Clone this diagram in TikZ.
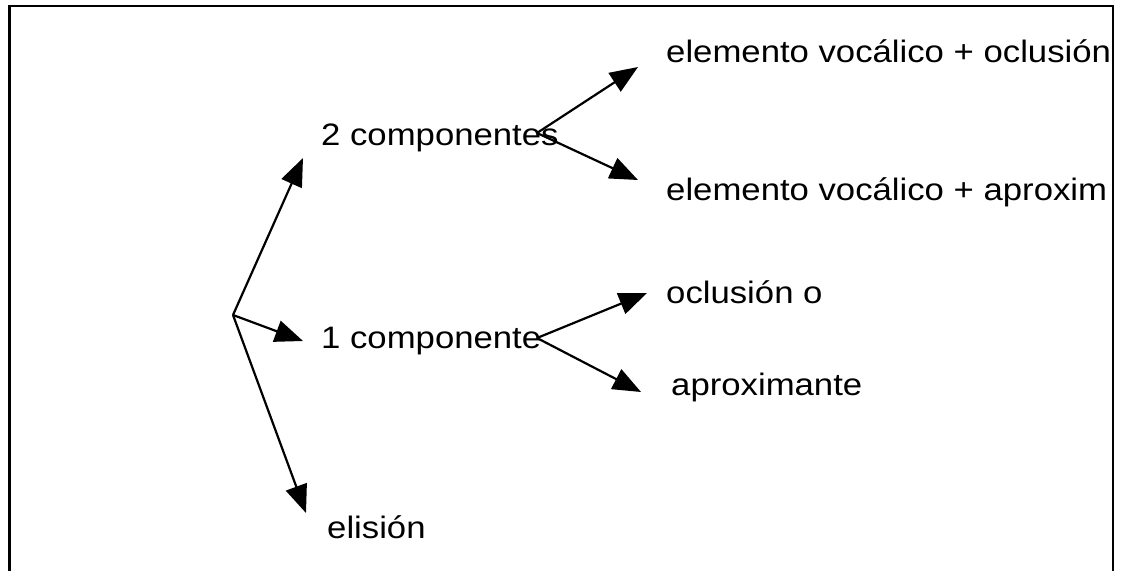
\documentclass[tikz,border=0pt]{standalone}
\usepackage{fontspec}
\setmainfont{Liberation Sans}[FakeStretch=1.12]
\usetikzlibrary{arrows.meta}
\begin{document}
\begin{tikzpicture}[x=1pt,y=-1pt,
  lbl/.style={anchor=base west, inner sep=0pt, font=\fontsize{31}{36}\selectfont},
  arr/.style={line width=2.2pt, -{Triangle[length=28pt,width=22pt]}},
  frame/.style={line width=2.4pt}]
\useasboundingbox (0,0) rectangle (1124,571);
% open-bottomed frame
\draw[frame] (9.5,571) -- (9.5,6) -- (1113,6) -- (1113,571);
\begin{scope}
\clip (10.7,7.2) rectangle (1111.8,571);
% labels
\node[lbl] (two)  at (321,145) {2 componentes};
\node[lbl] (one)  at (321,348) {1 componente};
\node[lbl] (eli)  at (327,538) {elisión};
\node[lbl] (voc1) at (666,62)  {elemento vocálico + oclusión};
\node[lbl] (voc2) at (666,200) {elemento vocálico + aproxim};
\node[lbl] (ocl)  at (666,303) {oclusión o};
\node[lbl] (apr)  at (671,395) {aproximante};
% branch points and arrow tips
\coordinate (hub)   at (233,315);
\coordinate (tTwo)  at (303,158);
\coordinate (tOne)  at (303,341);
\coordinate (tEli)  at (306,513);
\coordinate (fTwo)  at (537,133);
\coordinate (tVoc1) at (638,67);
\coordinate (tVoc2) at (638,180);
\coordinate (fOne)  at (537,338);
\coordinate (tOcl)  at (647,293);
\coordinate (tApr)  at (641,392);
% arrows
\draw[arr] (hub) -- (tTwo);
\draw[arr] (hub) -- (tOne);
\draw[arr] (hub) -- (tEli);
\draw[arr] (fTwo) -- (tVoc1);
\draw[arr] (fTwo) -- (tVoc2);
\draw[arr] (fOne) -- (tOcl);
\draw[arr] (fOne) -- (tApr);
\end{scope}
\end{tikzpicture}
\end{document}
